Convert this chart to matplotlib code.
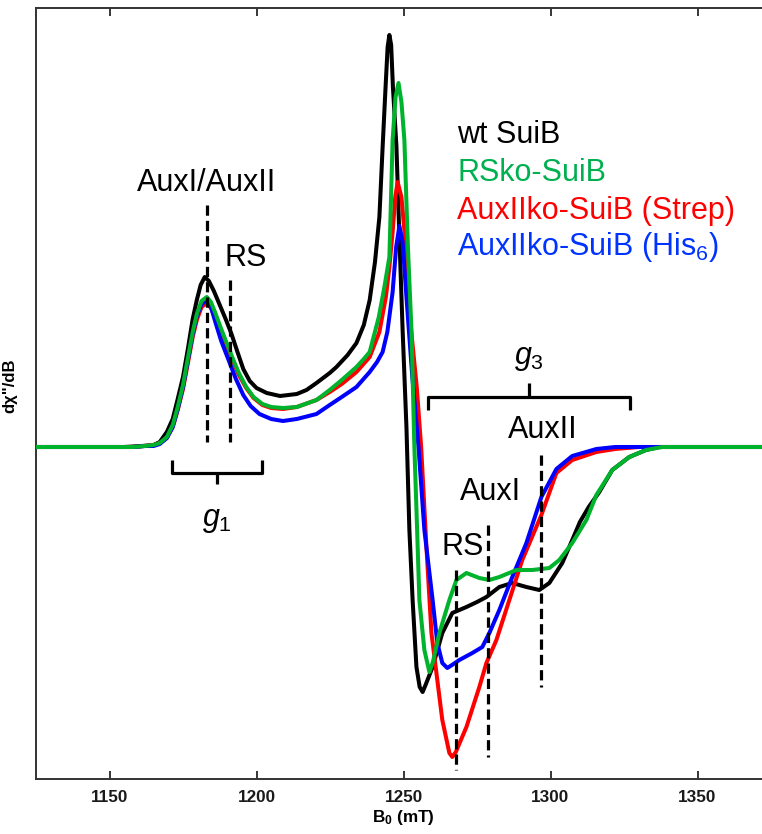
import matplotlib
matplotlib.use("Agg")
import matplotlib.pyplot as plt

plt.rcParams['font.family'] = ['Liberation Sans', 'DejaVu Sans']
plt.rcParams['mathtext.fontset'] = 'custom'
plt.rcParams['mathtext.rm'] = 'Liberation Sans'
plt.rcParams['mathtext.it'] = 'Liberation Sans:italic'
plt.rcParams['mathtext.bf'] = 'Liberation Sans:bold'

# ---------------- data (B0 in mT, signal in arbitrary units) ----------------
wt_B = [1125, 1140, 1155, 1161, 1165, 1167.1, 1169.5, 1171.5, 1173.2, 1175, 1176.6, 1178.3, 1179.7,
        1181, 1182.4, 1183.8, 1185.5, 1187.5, 1189.5, 1191.5, 1193.3, 1195.5, 1197.7, 1200, 1203.5,
        1208, 1213.7, 1217, 1220.4, 1224.9, 1227.2, 1231, 1234, 1236.5, 1238.5, 1240.3, 1241.8,
        1242.9, 1243.9, 1244.6, 1245.2, 1245.8, 1246.4, 1247.6, 1248.6, 1249.7, 1251, 1252,
        1253.1, 1254.4, 1255.5, 1256.5, 1257.5, 1259.9, 1263.2, 1266.6, 1271.4, 1275, 1278.2,
        1282.6, 1287.0, 1291.8, 1296.2, 1299.6, 1304, 1307.4, 1310, 1313, 1316.6, 1321, 1326.8,
        1332.5, 1337, 1375]
wt_S = [0, 0, 0, 1, 2, 5, 15, 28, 48, 70, 97, 128, 147,
        162, 170, 166, 156, 142, 128, 113, 97, 78, 66, 59, 54,
        51, 53, 57, 64, 74, 80, 92, 104, 122, 147, 185, 230,
        300, 360, 400, 412, 402, 360, 300, 210, 117, 20, -83,
        -153, -220, -240, -245, -238, -220, -186, -166, -160, -155, -150,
        -140, -136, -140, -143, -136, -116, -93, -75, -60, -45, -23, -10,
        -3, 0, 0]

rsko_B = [1125, 1158, 1162, 1165, 1167.1, 1169.5, 1171.5, 1173.2, 1175, 1176.6, 1178.3, 1179.7,
          1181.3, 1183.1, 1184.5, 1186, 1188, 1190, 1192, 1194, 1196.5, 1199, 1202, 1205, 1209,
          1213.7, 1220.4, 1224.9, 1229, 1234, 1236.5, 1238.5, 1241.6, 1243.5, 1245.2, 1246.3,
          1247.3, 1248.3, 1249.3, 1250.3, 1251.5, 1252.7, 1253.7, 1254.6, 1255.4, 1257.1, 1258.8,
          1260, 1262.2, 1265.6, 1268, 1271.4, 1275.8, 1279.2, 1282.6, 1288.4, 1293.8, 1299.6,
          1303, 1307.4, 1312.2, 1315.6, 1321, 1326.8, 1332.5, 1338, 1375]
rsko_S = [0, 0, 1, 2, 4, 10, 22, 40, 62, 88, 115, 133,
          146, 150, 145, 134, 118, 103, 88, 74, 60, 50, 43, 40, 39,
          40, 47, 57, 67, 80, 88, 95, 130, 160, 190, 307,
          350, 364, 345, 307, 200, 117, 0, -80, -153, -203, -225,
          -215, -186, -153, -133, -126, -131, -133, -130, -123, -123, -121,
          -113, -96, -73, -48, -23, -10, -3, 0, 0]

strep_B = [1125, 1158, 1162, 1165, 1167.1, 1169.5, 1171.5, 1173.2, 1175, 1176.6, 1178.3, 1179.7,
           1181.3, 1183.1, 1184.5, 1186, 1188, 1190, 1192, 1194, 1196.5, 1199, 1202, 1205, 1209,
           1213.7, 1220.4, 1224.9, 1229, 1234, 1238.5, 1241.8, 1244, 1245.2, 1246.3, 1247.2,
           1248, 1249.3, 1250.9, 1252.5, 1254.5, 1256, 1257.8, 1259.5, 1261.2, 1263.2, 1265.6,
           1266.6, 1267.8, 1271.4, 1275.8, 1278.2, 1281.6, 1286, 1290.4, 1296.9, 1302, 1307.4,
           1315.6, 1322, 1330, 1375]
strep_S = [0, 0, 1, 2, 4, 9, 20, 37, 58, 83, 110, 127,
           140, 144, 139, 129, 114, 100, 86, 72, 59, 49, 42, 39, 38,
           40, 47, 55, 63, 75, 90, 115, 150, 180, 215, 250,
           265, 250, 197, 120, 60, 0, -100, -186, -226, -273, -306,
           -310, -305, -280, -240, -216, -193, -153, -113, -68, -26, -13,
           -5, -2, 0, 0]

his_B = [1125, 1158, 1162, 1165, 1167.1, 1169.5, 1171.5, 1173.2, 1175, 1176.6, 1178.3, 1179.7,
         1181.3, 1183.1, 1184.5, 1186, 1188, 1190.9, 1193, 1195.5, 1198, 1201, 1205, 1209,
         1213.7, 1220.4, 1224.9, 1229, 1234, 1238.5, 1241, 1242.9, 1244.5, 1246.3, 1247.5,
         1248.6, 1249.7, 1251, 1253, 1255.1, 1257.1, 1259.9, 1261.5, 1263.2, 1264.9, 1266.5,
         1269, 1273.4, 1276.8, 1279.2, 1282.6, 1287, 1291.8, 1296.9, 1302, 1307.4, 1315.6,
         1322, 1375]
his_S = [0, 0, 1, 1, 3, 9, 20, 38, 60, 86, 113, 131,
         143, 147, 140, 125, 106, 84, 68, 52, 41, 33, 28, 26,
         28, 33, 42, 50, 60, 75, 85, 95, 115, 155, 200,
         221, 205, 150, 70, 0, -83, -153, -196, -216, -221, -218,
         -213, -206, -200, -186, -163, -130, -96, -50, -22, -9, -2,
         0, 0]

labels = ["wt SuiB", "RSko-SuiB", "AuxIIko-SuiB (Strep)", "AuxIIko-SuiB (His$_6$)"]
line_colors = ["#000000", "#00b32c", "#ff0000", "#0000ff"]
text_colors = ["#000000", "#00b050", "#ff0000", "#0033ff"]

xticks = [1150, 1200, 1250, 1300, 1350]

# ---------------- figure ----------------
fig = plt.figure(figsize=(7.62, 8.34), dpi=100)
ax = fig.add_axes([36 / 762, 55 / 834, 735 / 762, 771 / 834])

lw = 2.9
kw = dict(lw=lw, solid_joinstyle='round', solid_capstyle='round')
ax.plot(wt_B, wt_S, color=line_colors[0], zorder=2, **kw)
ax.plot(strep_B, strep_S, color=line_colors[2], zorder=3, **kw)
ax.plot(his_B, his_S, color=line_colors[3], zorder=4, **kw)
ax.plot(rsko_B, rsko_S, color=line_colors[1], zorder=5, **kw)

ax.set_xlim(1125, 1375)
ax.set_ylim(-332, 439)
ax.set_xticks(xticks)
ax.set_xticklabels([str(t) for t in xticks], fontsize=12.3, fontweight='bold')
ax.set_yticks([])
ax.tick_params(axis='x', direction='in', length=5.5, width=1.3, top=True, pad=8, colors='#262626')
ax.tick_params(axis='x', labelcolor='#1a1a1a')
for s in ax.spines.values():
    s.set_linewidth(1.4)
    s.set_color('#333333')

ax.set_xlabel("B$_\\mathbf{0}$ (mT)", fontsize=12.3, fontweight='bold', labelpad=2)
ax.set_ylabel('d\u03c7"/dB', fontsize=12, fontweight='bold')
ax.yaxis.set_label_coords(-0.026, 0.51)

# ---------------- annotations ----------------
dash = (0, (3.2, 1.6))
ak = dict(color='black', lw=2.3, linestyle=dash, zorder=6)
ax.plot([1183.1, 1183.1], [242, 5], **ak)
ax.plot([1190.9, 1190.9], [167, 5], **ak)
ax.plot([1267.7, 1267.7], [-123, -323], **ak)
ax.plot([1278.9, 1278.9], [-78, -310], **ak)
ax.plot([1296.9, 1296.9], [-8, -240], **ak)

fs = 22
ax.text(1183.1, 264, "AuxI/AuxII", fontsize=fs, ha='center', va='center', zorder=7)
ax.text(1196.3, 189, "RS", fontsize=fs, ha='center', va='center', zorder=7)
ax.text(1270.0, -100, "RS", fontsize=fs, ha='center', va='center', zorder=7)
ax.text(1279.5, -45, "AuxI", fontsize=fs, ha='center', va='center', zorder=7)
ax.text(1297.2, 17, "AuxII", fontsize=fs, ha='center', va='center', zorder=7)
ax.text(1292.8, 89, "$g_3$", fontsize=fs, ha='center', va='center', zorder=7)
ax.text(1186.5, -73, "$g_1$", fontsize=fs, ha='center', va='center', zorder=7)

bk = dict(color='black', lw=2.3, solid_capstyle='butt', solid_joinstyle='round', zorder=7)
# g1 bracket
ax.plot([1171.2, 1171.2, 1201.8, 1201.8], [-13, -26, -26, -13], **bk)
ax.plot([1186.5, 1186.5], [-26, -37], **bk)
# g3 bracket
ax.plot([1258.2, 1258.2, 1327.1, 1327.1], [37, 50, 50, 37], **bk)
ax.plot([1292.8, 1292.8], [50, 64], **bk)

# legend-like text
for i, (lab, c) in enumerate(zip(labels, text_colors)):
    ax.text(1268.3, [312, 274, 236, 200][i], lab, color=c, fontsize=fs,
            ha='left', va='center', zorder=7)

fig.savefig("out.png", dpi=100)
